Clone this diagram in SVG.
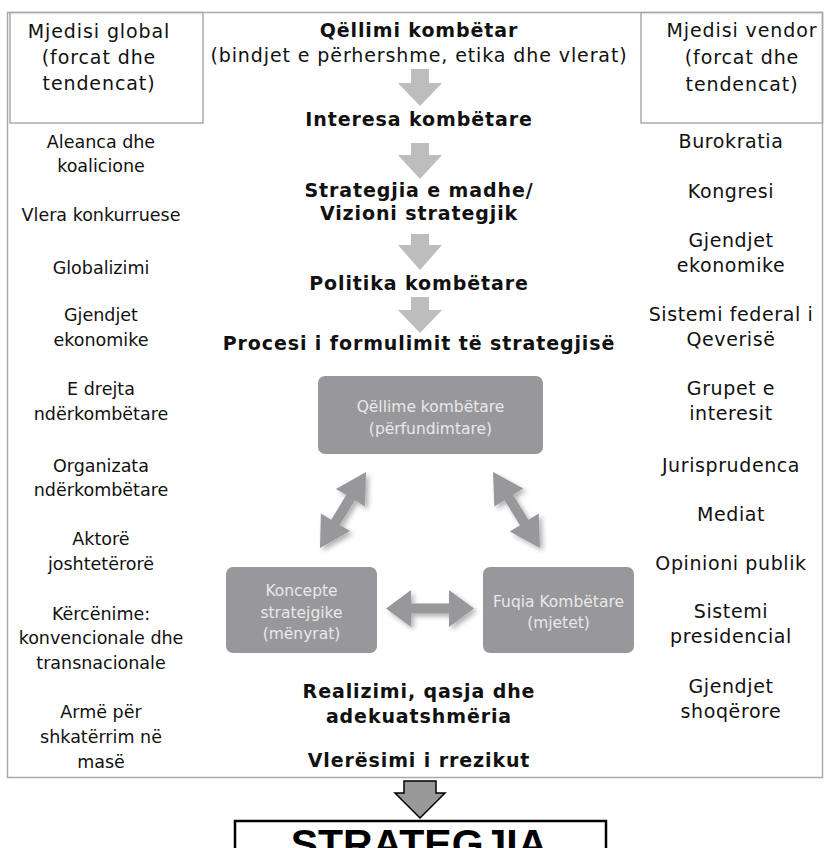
<svg xmlns="http://www.w3.org/2000/svg" width="824" height="848" viewBox="0 0 824 848">
<defs>
<style>
.hd{font-family:"DejaVu Sans",Verdana,sans-serif;font-size:19px;letter-spacing:0.9px;fill:#111;text-anchor:middle}
.bd{font-family:"DejaVu Sans",Verdana,sans-serif;font-size:19px;font-weight:bold;letter-spacing:0.9px;fill:#111;text-anchor:middle}
.sd{font-family:"DejaVu Sans",Verdana,sans-serif;font-size:17.5px;fill:#111;text-anchor:middle}
.sr{font-family:"DejaVu Sans",Verdana,sans-serif;font-size:19px;letter-spacing:0.6px;fill:#111;text-anchor:middle}
.bx{font-family:"DejaVu Sans",Verdana,sans-serif;font-size:15.5px;fill:#e8e8e8;text-anchor:middle}
.frame{fill:none;stroke:#aaaaaa;stroke-width:1.5}
.gbox{fill:#98989c}
.dn{fill:#bdbdbd}
.dbl{fill:#98989c;filter:url(#sh)}
</style>
<filter id="sh" x="-30%" y="-30%" width="160%" height="160%">
<feDropShadow dx="3" dy="3" stdDeviation="2.5" flood-color="#000" flood-opacity="0.3"/>
</filter>
</defs>
<rect class="frame" x="7.5" y="12.5" width="815" height="765"/>
<g id="global-header">
<rect class="frame" x="10" y="12.5" width="193" height="110.5" stroke="#bbbbbb"/>
<text class="hd" x="99" y="38">Mjedisi global</text>
<text class="hd" x="99" y="64">(forcat dhe</text>
<text class="hd" x="99" y="90">tendencat)</text>
</g>
<g id="domestic-header">
<rect class="frame" x="641" y="12.5" width="181.5" height="110.5"/>
<text class="hd" x="742" y="37">Mjedisi vendor</text>
<text class="hd" x="742" y="64">(forcat dhe</text>
<text class="hd" x="742" y="91">tendencat)</text>
</g>
<g id="global-list">
<text class="sd" x="101" y="148">Aleanca dhe</text>
<text class="sd" x="101" y="172">koalicione</text>
<text class="sd" x="101" y="221">Vlera konkurruese</text>
<text class="sd" x="101" y="274">Globalizimi</text>
<text class="sd" x="101" y="321">Gjendjet</text>
<text class="sd" x="101" y="346">ekonomike</text>
<text class="sd" x="101" y="395">E drejta</text>
<text class="sd" x="101" y="420">ndërkombëtare</text>
<text class="sd" x="101" y="472">Organizata</text>
<text class="sd" x="101" y="496">ndërkombëtare</text>
<text class="sd" x="101" y="545">Aktorë</text>
<text class="sd" x="101" y="570">joshtetërorë</text>
<text class="sd" x="101" y="620">Kërcënime:</text>
<text class="sd" x="101" y="644">konvencionale dhe</text>
<text class="sd" x="101" y="669">transnacionale</text>
<text class="sd" x="101" y="718">Armë për</text>
<text class="sd" x="101" y="743">shkatërrim në</text>
<text class="sd" x="101" y="768">masë</text>
</g>
<g id="domestic-list">
<text class="sr" x="731" y="148">Burokratia</text>
<text class="sr" x="731" y="198">Kongresi</text>
<text class="sr" x="731" y="247">Gjendjet</text>
<text class="sr" x="731" y="272">ekonomike</text>
<text class="sr" x="731" y="321">Sistemi federal i</text>
<text class="sr" x="731" y="346">Qeverisë</text>
<text class="sr" x="731" y="395">Grupet e</text>
<text class="sr" x="731" y="420">interesit</text>
<text class="sr" x="731" y="472">Jurisprudenca</text>
<text class="sr" x="731" y="521">Mediat</text>
<text class="sr" x="731" y="570">Opinioni publik</text>
<text class="sr" x="731" y="618">Sistemi</text>
<text class="sr" x="731" y="643">presidencial</text>
<text class="sr" x="731" y="693">Gjendjet</text>
<text class="sr" x="731" y="718">shoqërore</text>
</g>
<g id="national-purpose">
<text class="bd" x="419" y="37">Qëllimi kombëtar</text>
<text class="hd" x="419" y="62">(bindjet e përhershme, etika dhe vlerat)</text>
</g>
<g id="national-interests"><text class="bd" x="419" y="126">Interesa kombëtare</text></g>
<g id="grand-strategy">
<text class="bd" x="419" y="197">Strategjia e madhe/</text>
<text class="bd" x="419" y="220">Vizioni strategjik</text>
</g>
<g id="national-policy"><text class="bd" x="419" y="290">Politika kombëtare</text></g>
<g id="formulation-process"><text class="bd" x="419" y="350">Procesi i formulimit të strategjisë</text></g>
<g id="ends">
<rect class="gbox" x="318" y="376" width="225" height="78" rx="7"/>
<text class="bx" x="430.5" y="412">Qëllime kombëtare</text>
<text class="bx" x="430.5" y="434">(përfundimtare)</text>
</g>
<g id="ways">
<rect class="gbox" x="226" y="567" width="151" height="86" rx="7"/>
<text class="bx" x="301.5" y="596">Koncepte</text>
<text class="bx" x="301.5" y="618">stratejgike</text>
<text class="bx" x="301.5" y="639">(mënyrat)</text>
</g>
<g id="means">
<rect class="gbox" x="483" y="567" width="151" height="86" rx="7"/>
<text class="bx" x="558.5" y="607">Fuqia Kombëtare</text>
<text class="bx" x="558.5" y="628">(mjetet)</text>
</g>
<g id="assessment">
<text class="bd" x="419" y="698">Realizimi, qasja dhe</text>
<text class="bd" x="419" y="723">adekuatshmëria</text>
<text class="bd" x="419" y="767">Vlerësimi i rrezikut</text>
</g>
<g id="strategy">
<rect x="235" y="821" width="371" height="40" fill="#fff" stroke="#000" stroke-width="2.5"/>
<text x="419" y="858" font-family="'Liberation Sans',Arial,sans-serif" font-size="41" font-weight="bold" text-anchor="middle" fill="#000">STRATEGJIA</text>
</g>
<g id="connectors">
<polygon class="dn" points="411,69 429,69 429,83 442,83 420,106 398,83 411,83"/>
<polygon class="dn" points="411,143 429,143 429,155 442,155 420,179 398,155 411,155"/>
<polygon class="dn" points="411,234 429,234 429,245 442,245 420,270 398,245 411,245"/>
<polygon class="dn" points="411,297 429,297 429,310 442,310 420,333 398,310 411,310"/>
<polygon class="dbl" points="366,472 365.1,506.5 354.8,500.3 339.8,524.9 350.1,531.1 320,548 320.9,513.5 331.2,519.7 346.2,495.1 335.9,488.9"/>
<polygon class="dbl" points="493,472 523.3,488.6 513.05,494.87 528.45,519.87 538.7,513.6 540,548 509.7,531.4 519.95,525.13 504.55,500.13 494.3,506.4"/>
<polygon class="dbl" points="386,608.5 411,590 411,603.5 449,603.5 449,590 474,608.5 449,627 449,613.5 411,613.5 411,627"/>
<polygon points="404,781 436,781 436,793 445,793 420,818 395,793 404,793" fill="#999999" stroke="#000" stroke-width="1.5"/>
</g>
</svg>
